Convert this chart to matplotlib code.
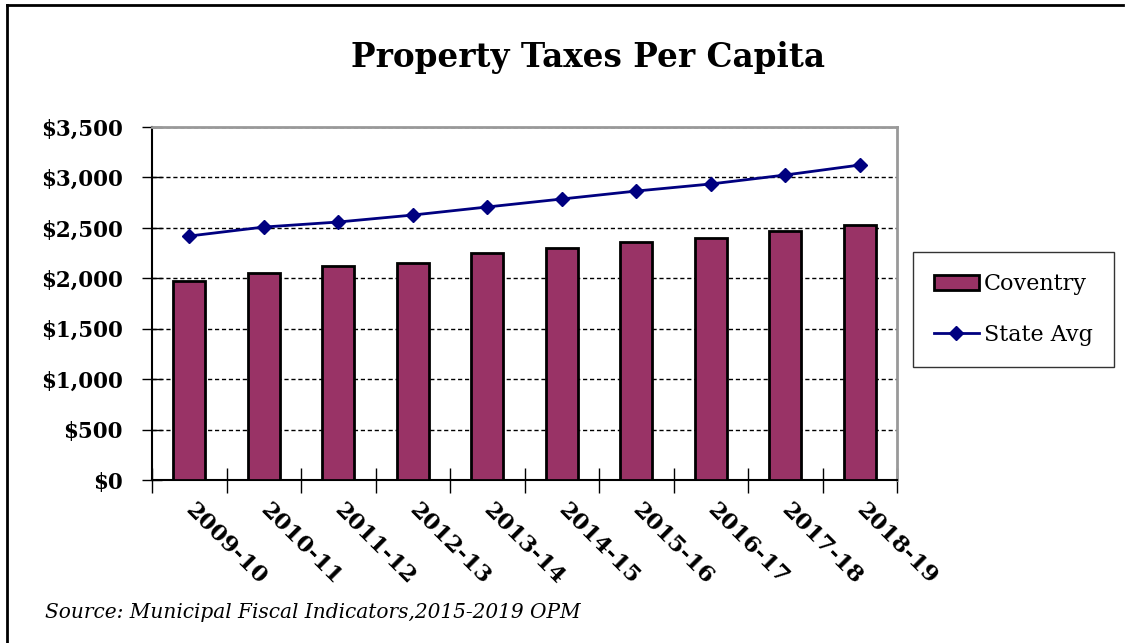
import matplotlib.pyplot as plt
from matplotlib.lines import Line2D
from matplotlib.ticker import FuncFormatter

years = ['2009-10', '2010-11', '2011-12', '2012-13', '2013-14',
         '2014-15', '2015-16', '2016-17', '2017-18', '2018-19']
coventry = [1973, 2052, 2122, 2152, 2251, 2300, 2360, 2399, 2469, 2528]
state_avg = [2419, 2508, 2558, 2627, 2707, 2786, 2865, 2935, 3024, 3123]

serif = 'DejaVu Serif'
bar_color = '#993366'
line_color = '#000080'

fig = plt.figure(figsize=(11.25, 6.43), dpi=100)
ax = fig.add_axes([152 / 1125, 1 - 480 / 643, 745 / 1125, 353 / 643])

x = list(range(len(years)))
ax.bar(x, coventry, width=0.43, color=bar_color, edgecolor='black',
       linewidth=2, zorder=3, label='Coventry')
ax.plot(x, state_avg, color=line_color, lw=2, marker='D', ms=7,
        zorder=4, label='State Avg')

ax.set_xlim(-0.5, len(years) - 0.5)
ax.set_ylim(0, 3500)
ax.set_yticks(range(0, 3501, 500))
ax.yaxis.set_major_formatter(FuncFormatter(lambda v, p: '${:,.0f}'.format(v)))
ax.grid(axis='y', color='black', ls=(0, (3, 2)), lw=1, zorder=1)

# category labels between the tick marks
ax.set_xticks([i + 0.5 for i in x[:-1]] + [-0.5, len(years) - 0.5])
ax.set_xticklabels([])
ax.set_xticks([i + 0.1 for i in x], minor=True)
ax.set_xticklabels(years, minor=True, rotation=-45, ha='left',
                   rotation_mode='anchor', fontsize=16.5, fontweight='bold',
                   family=serif)
ax.tick_params(axis='x', which='major', direction='inout', length=18, width=1)
ax.tick_params(axis='x', which='minor', length=0, pad=14)
ax.tick_params(axis='y', direction='inout', length=14, width=1, pad=14)
for lbl in ax.get_yticklabels():
    lbl.set_fontsize(15.5)
    lbl.set_fontweight('bold')
    lbl.set_family(serif)

for side in ('left', 'bottom'):
    ax.spines[side].set_color('black')
    ax.spines[side].set_linewidth(1.5)
for side in ('top', 'right'):
    ax.spines[side].set_color('#999999')
    ax.spines[side].set_linewidth(2)

fig.text(588 / 1125, 1 - 57 / 643, 'Property Taxes Per Capita', ha='center',
         va='center', fontsize=23.5, fontweight='bold', family=serif)
fig.text(45 / 1125, 1 - 613 / 643,
         'Source: Municipal Fiscal Indicators,2015-2019 OPM',
         ha='left', va='center', fontsize=14.5, style='italic', family=serif)

handles = [plt.Rectangle((0, 0), 1, 1, facecolor=bar_color, edgecolor='black', lw=2),
           Line2D([], [], color=line_color, lw=2, marker='D', ms=7)]
leg = fig.legend(handles, ['Coventry', 'State Avg'],
                 loc='upper left', bbox_to_anchor=(913 / 1125, 1 - 252 / 643),
                 borderaxespad=0, frameon=True, fancybox=False,
                 edgecolor='black', prop={'family': serif, 'size': 16},
                 labelspacing=1.3, handlelength=2.0, borderpad=0.95,
                 handletextpad=0.25)
leg.get_frame().set_linewidth(1)

# outer border of the chart image
fig.add_artist(Line2D([7 / 1125, 1123 / 1125], [1 - 5 / 643] * 2,
                      color='black', lw=2, transform=fig.transFigure))
fig.add_artist(Line2D([7 / 1125] * 2, [0, 1 - 5 / 643],
                      color='black', lw=2, transform=fig.transFigure))

fig.savefig('out.png', dpi=100)
